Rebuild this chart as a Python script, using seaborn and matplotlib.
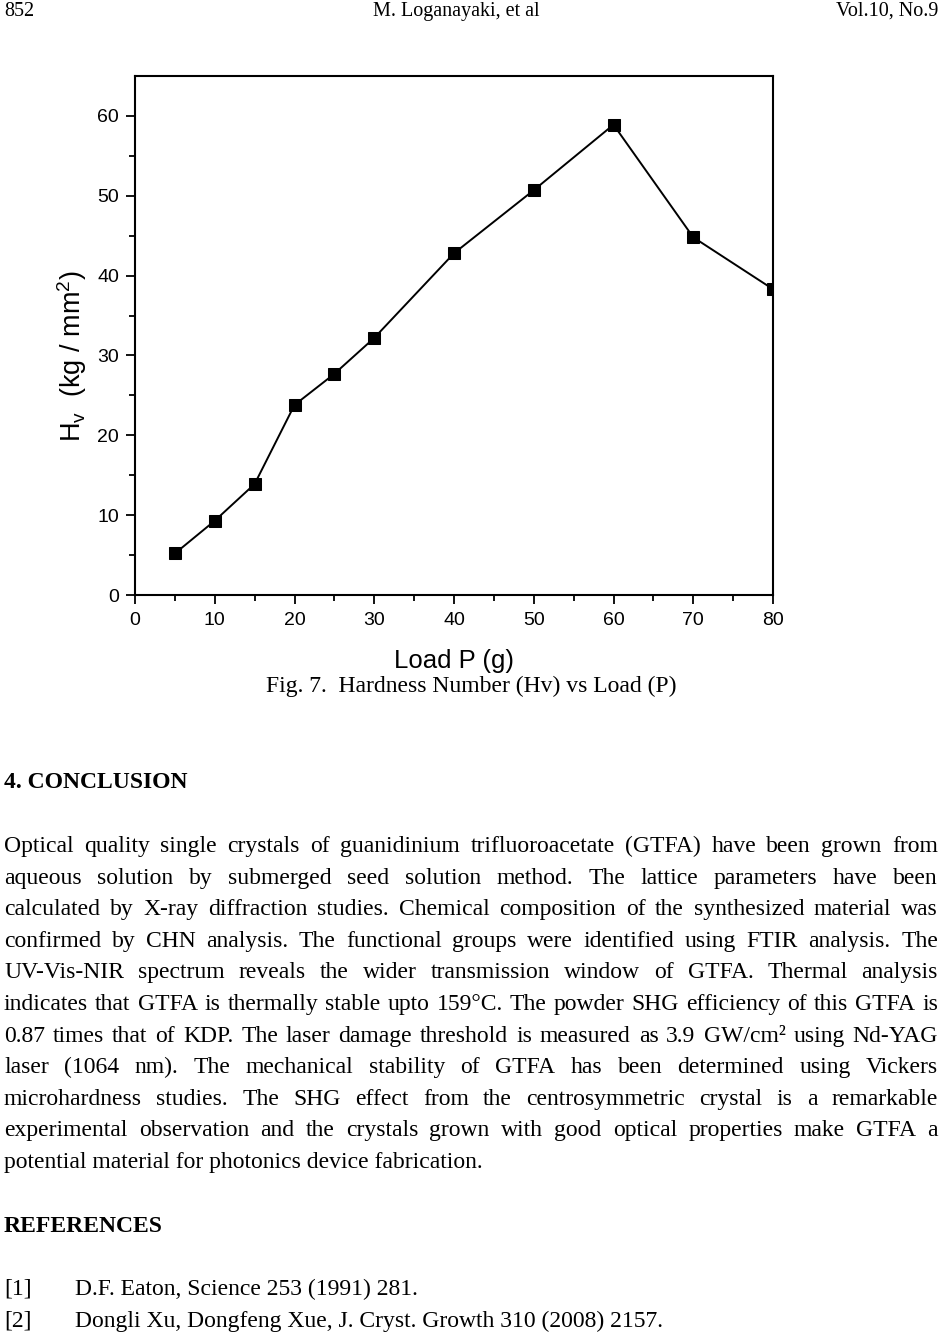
import matplotlib
matplotlib.use("Agg")
import seaborn as sns
import matplotlib.pyplot as plt
import pandas as pd

# --- data ---
load_g = [5, 10, 15, 20, 25, 30, 40, 50, 60, 70, 80]
hardness = [5.2, 9.3, 13.9, 23.8, 27.7, 32.2, 42.8, 50.7, 58.9, 44.8, 38.3]
x_ticks = [0, 10, 20, 30, 40, 50, 60, 70, 80]
y_ticks = [0, 10, 20, 30, 40, 50, 60]

header = ["852", "M. Loganayaki, et al", "Vol.10, No.9"]
caption = "Fig. 7.  Hardness Number (Hv) vs Load (P)"
conclusion_lines = [
    "Optical quality single crystals of guanidinium trifluoroacetate (GTFA) have been grown from",
    "aqueous solution by submerged seed solution method. The lattice parameters have been",
    "calculated by X-ray diffraction studies. Chemical composition of the synthesized material was",
    "confirmed by CHN analysis. The functional groups were identified using FTIR analysis. The",
    "UV-Vis-NIR spectrum reveals the wider transmission window of GTFA. Thermal analysis",
    "indicates that GTFA is thermally stable upto 159°C. The powder SHG efficiency of this GTFA is",
    "0.87 times that of KDP. The laser damage threshold is measured as 3.9 GW/cm² using Nd-YAG",
    "laser (1064 nm). The mechanical stability of GTFA has been determined using Vickers",
    "microhardness studies. The SHG effect from the centrosymmetric crystal is a remarkable",
    "experimental observation and the crystals grown with good optical properties make GTFA a",
    "potential material for photonics device fabrication.",
]
ref_tags = ["[1]", "[2]"]
ref_texts = ["D.F. Eaton, Science 253 (1991) 281.",
             "Dongli Xu, Dongfeng Xue, J. Cryst. Growth 310 (2008) 2157."]

W, H = 942, 1339
sns.set_style("ticks")
plt.rcParams["font.family"] = ["Liberation Sans", "DejaVu Sans"]
plt.rcParams["text.color"] = "black"
plt.rcParams["axes.labelcolor"] = "black"
plt.rcParams["mathtext.fontset"] = "custom"
plt.rcParams["mathtext.rm"] = "Liberation Sans"

fig = plt.figure(figsize=(W / 100, H / 100), dpi=100)
fig.patch.set_facecolor("white")

# --- chart ---
ax = fig.add_axes([135 / W, 1 - 595 / H, 638 / W, 519 / H])
df = pd.DataFrame({"Load": load_g, "Hv": hardness})
sns.lineplot(data=df, x="Load", y="Hv", marker="s", color="black",
             markersize=8, linewidth=1.4, markeredgecolor="black", ax=ax)
ax.set_xlim(0, 80)
ax.set_ylim(0, 65)
ax.set_xticks(x_ticks)
ax.set_yticks(y_ticks)
ax.set_xticks([5, 15, 25, 35, 45, 55, 65, 75], minor=True)
ax.set_yticks([5, 15, 25, 35, 45, 55], minor=True)
for s in ax.spines.values():
    s.set_visible(True)
    s.set_linewidth(1.5)
    s.set_color("black")
ax.tick_params(which="major", direction="out", length=6.5, width=1.3,
               labelsize=14, colors="black")
ax.tick_params(axis="x", which="major", pad=6)
ax.tick_params(axis="y", which="major", pad=5)
ax.tick_params(which="minor", direction="out", length=4, width=1.3, colors="black")
ax.set_xlabel("Load P (g)", fontsize=18.5, labelpad=14)
ax.set_ylabel(r"H$_\mathregular{v}$  (kg / mm$^\mathregular{2}$)", fontsize=19.5, labelpad=6)
ax.yaxis.label.set_y(0.46)


def put(x, y, s, **kw):
    return fig.text(x / W, 1 - y / H, s, **kw)


serif = ["Liberation Serif", "DejaVu Serif"]
body = 17
renderer = fig.canvas.get_renderer()

# header
put(4, 16, header[0], family=serif, fontsize=14.5, va="baseline")
put(456, 16, header[1], family=serif, fontsize=14.5, va="baseline", ha="center")
put(938, 16, header[2], family=serif, fontsize=14.5, va="baseline", ha="right")

put(471, 692, caption, family=serif, fontsize=17, va="baseline", ha="center")
put(4, 788, "4. CONCLUSION", family=serif, fontsize=body, weight="bold", va="baseline")

# justified paragraph
for i, line in enumerate(conclusion_lines):
    y = 852 + i * 31.6
    if i == len(conclusion_lines) - 1:
        put(4, y, line, family=serif, fontsize=body, va="baseline")
        continue
    words = line.split()
    arts = [put(0, y, w, family=serif, fontsize=body, va="baseline") for w in words]
    widths = [a.get_window_extent(renderer).width for a in arts]
    gap = (934 - sum(widths)) / (len(words) - 1)
    x = 4
    for a, w in zip(arts, widths):
        a.set_x(x / W)
        x += w + gap

put(4, 1232, "REFERENCES", family=serif, fontsize=body, weight="bold", va="baseline")
for i, (tag, txt) in enumerate(zip(ref_tags, ref_texts)):
    y = 1295 + i * 31.6
    put(4, y, tag, family=serif, fontsize=body, va="baseline")
    put(75, y, txt, family=serif, fontsize=body, va="baseline")

fig.savefig("out.png", dpi=100)
plt.close(fig)
